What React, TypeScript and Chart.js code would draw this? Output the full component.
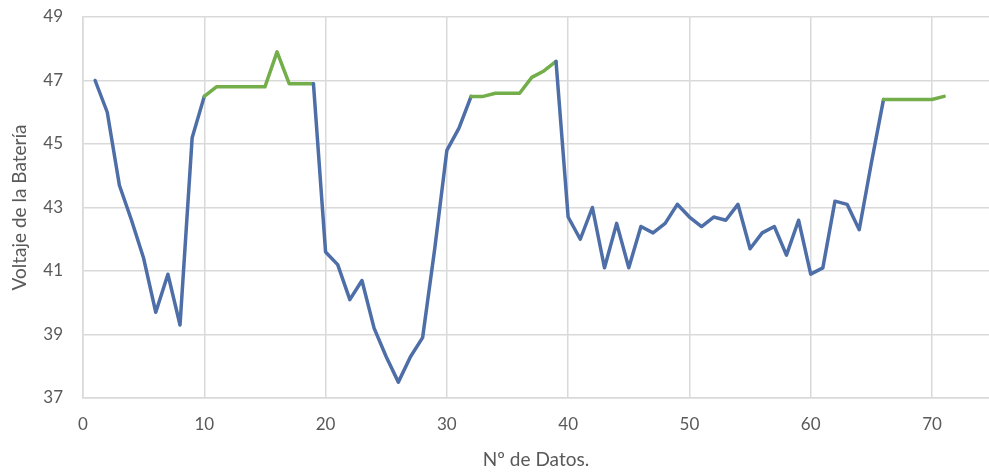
import React, { useEffect, useRef } from "react";
import { Chart, registerables } from "chart.js";

Chart.register(...registerables);

// Battery voltage readings, data points 1..71
const voltage: number[] = [
  47.0, 46.0, 43.7, 42.6, 41.4, 39.7, 40.9, 39.3, 45.2, 46.5,
  46.8, 46.8, 46.8, 46.8, 46.8, 47.9, 46.9, 46.9, 46.9, 41.6,
  41.2, 40.1, 40.7, 39.2, 38.3, 37.5, 38.3, 38.9, 41.7, 44.8,
  45.5, 46.5, 46.5, 46.6, 46.6, 46.6, 47.1, 47.3, 47.6, 42.7,
  42.0, 43.0, 41.1, 42.5, 41.1, 42.4, 42.2, 42.5, 43.1, 42.7,
  42.4, 42.7, 42.6, 43.1, 41.7, 42.2, 42.4, 41.5, 42.6, 40.9,
  41.1, 43.2, 43.1, 42.3, 44.4, 46.4, 46.4, 46.4, 46.4, 46.4,
  46.5,
];
const dataNumbers: number[] = voltage.map((_, i) => i + 1);

// Stretches (by data number) drawn in green
const greenFrom: number[] = [10, 32, 66];
const greenTo: number[] = [19, 39, 71];

const xTickValues: number[] = [0, 10, 20, 30, 40, 50, 60, 70];
const yMin = 37;
const yMax = 49;
const xMax = 74.7;

const xTitle = "Nº de Datos.";
const yTitle = "Voltaje de la Batería";

const BLUE = "#4E6EA8";
const GREEN = "#73AE4A";
const GRID = "#D9D9D9";
const TEXT = "#595959";
const FONT = "Lato";

export default function App() {
  const ref = useRef<HTMLCanvasElement | null>(null);

  useEffect(() => {
    if (!ref.current) return;
    const isGreen = (x0: number, x1: number) =>
      greenFrom.some((f, i) => x0 >= f && x1 <= greenTo[i]);

    const chart = new Chart(ref.current, {
      type: "line",
      data: {
        datasets: [
          {
            data: dataNumbers.map((x, i) => ({ x, y: voltage[i] })),
            borderColor: BLUE,
            borderWidth: 3.5,
            pointRadius: 0,
            borderJoinStyle: "round",
            borderCapStyle: "round",
            tension: 0,
            segment: {
              borderColor: (ctx: any) =>
                isGreen(ctx.p0.parsed.x, ctx.p1.parsed.x) ? GREEN : BLUE,
            },
          },
        ],
      },
      options: {
        animation: false,
        responsive: true,
        maintainAspectRatio: false,
        layout: { padding: { top: 17, right: 0, bottom: 0, left: 0 } },
        plugins: {
          legend: { display: false },
          tooltip: { enabled: false },
        },
        scales: {
          x: {
            type: "linear",
            min: 0,
            max: xMax,
            afterBuildTicks: (s: any) => {
              s.ticks = xTickValues.map((v) => ({ value: v }));
            },
            afterFit: (s: any) => {
              s.height = 75;
              s.paddingLeft = 0;
              s.paddingRight = 0;
            },
            ticks: {
              color: TEXT,
              font: { family: FONT, size: 17 },
              padding: 16,
              maxRotation: 0,
            },
            grid: { color: GRID, lineWidth: 1.5, drawTicks: false },
            border: { color: GRID, width: 1.5 },
            title: {
              display: true,
              text: xTitle,
              color: TEXT,
              font: { family: FONT, size: 19 },
              padding: { top: 0, bottom: 2 },
            },
          },
          y: {
            min: yMin,
            max: yMax,
            afterFit: (s: any) => {
              s.width = 83;
              s.paddingTop = 0;
              s.paddingBottom = 0;
            },
            ticks: {
              stepSize: 2,
              color: TEXT,
              font: { family: FONT, size: 17 },
              padding: 20,
            },
            grid: { color: GRID, lineWidth: 1.5, drawTicks: false },
            border: { color: GRID, width: 1.5 },
            title: {
              display: true,
              text: yTitle,
              color: TEXT,
              font: { family: FONT, size: 19 },
              padding: { top: 8, bottom: 0 },
            },
          },
        },
      },
    });
    return () => chart.destroy();
  }, []);

  return (
    <div
      style={{
        position: "fixed",
        left: 0,
        top: 0,
        width: 989,
        height: 473,
        background: "#ffffff",
      }}
    >
      <canvas ref={ref} />
    </div>
  );
}
